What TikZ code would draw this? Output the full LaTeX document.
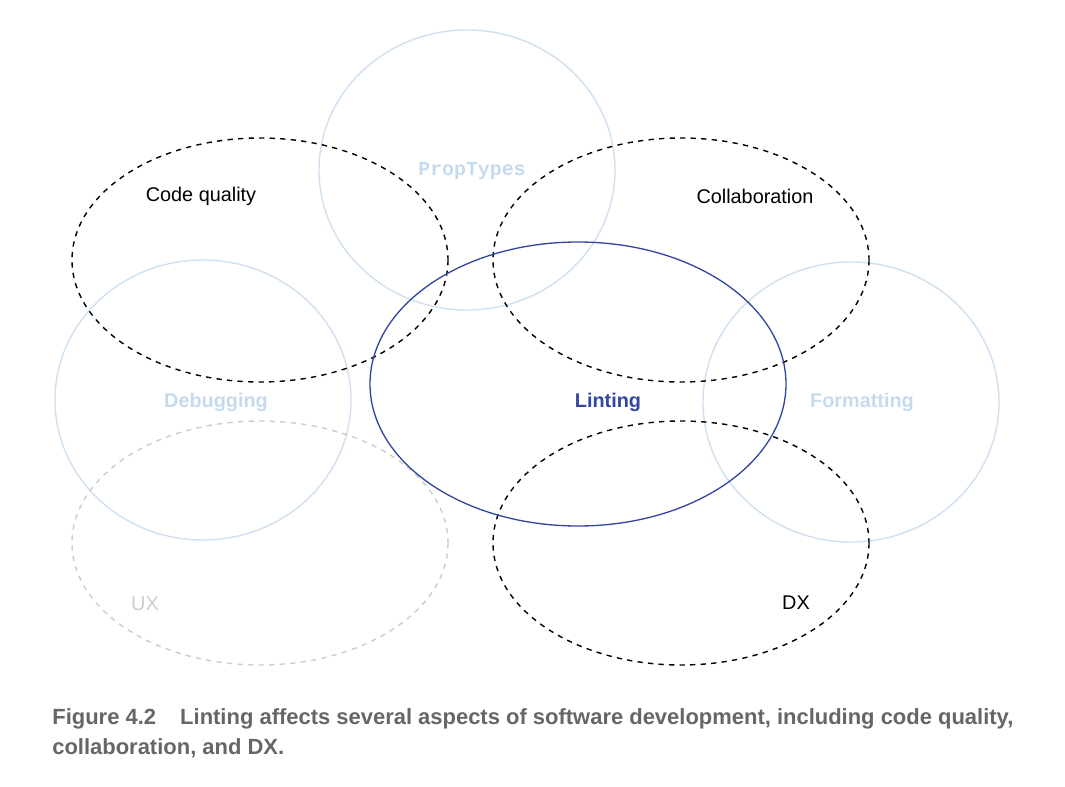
\documentclass[tikz,border=0pt]{standalone}
\usepackage{fontspec}
\setmainfont{Liberation Sans}
\setmonofont{Liberation Mono}

\definecolor{paleBlue}{HTML}{CFE0F1}
\definecolor{paleBlueText}{HTML}{C6DAEE}
\definecolor{lintBlue}{HTML}{33469E}
\definecolor{uxGray}{HTML}{CCCCCC}
\definecolor{captionGray}{HTML}{666666}

\tikzset{
    aspectRing/.style={dashed, line width=0.8pt, black},
    fadedRing/.style={line width=0.8pt, paleBlue},
    label/.style={font=\fontsize{11.3pt}{13pt}\selectfont, inner sep=0pt},
    fadedLabel/.style={label, font=\fontsize{11.3pt}{13pt}\selectfont\bfseries, text=paleBlueText},
    captionLine/.style={anchor=base west, inner sep=0pt, text=captionGray,
        font=\fontsize{12.5pt}{15pt}\selectfont\bfseries}
}

\begin{document}
\begin{tikzpicture}[x=0.02cm, y=-0.02cm]

    \useasboundingbox (0, 0) rectangle (1065, 787);

    \def\ovalRx{188}
    \def\ovalRy{122}
    \def\circleRx{148}
    \def\circleRy{140}

    % faded circles
    \draw[fadedRing] (467, 170) ellipse [x radius=\circleRx, y radius=\circleRy];
    \draw[fadedRing] (203, 400) ellipse [x radius=\circleRx, y radius=\circleRy];
    \draw[fadedRing] (851, 402) ellipse [x radius=\circleRx, y radius=\circleRy];

    % UX (faded dashed)
    \draw[dashed, line width=0.8pt, uxGray] (260, 543) ellipse [x radius=\ovalRx, y radius=\ovalRy];

    % dashed aspects
    \draw[aspectRing] (260, 260) ellipse [x radius=\ovalRx, y radius=\ovalRy];
    \draw[aspectRing] (681, 260) ellipse [x radius=\ovalRx, y radius=\ovalRy];
    \draw[aspectRing] (681, 543) ellipse [x radius=\ovalRx, y radius=\ovalRy];

    % linting
    \draw[line width=0.75pt, lintBlue] (578, 384) ellipse [x radius=208, y radius=142];

    % labels
    \node[label] (codeQuality) at (201, 196) {Code quality};
    \node[label] (collaboration) at (755, 196) {Collaboration};
    \node[label] (dx) at (796, 603) {DX};
    \node[label, text=uxGray] (ux) at (145, 604) {UX};
    \node[fadedLabel, font=\fontsize{11.3pt}{13pt}\selectfont\ttfamily\bfseries] (propTypes) at (472, 171) {PropTypes};
    \node[fadedLabel] (debugging) at (216, 402) {Debugging};
    \node[fadedLabel] (formatting) at (862, 402) {Formatting};
    \node[label, font=\fontsize{11.3pt}{13pt}\selectfont\bfseries, text=lintBlue] (linting) at (608, 402) {Linting};

    % caption
    \node[captionLine] (captionTop) at (52, 724) {Figure 4.2\hspace{1.1em}Linting affects several aspects of software development, including code quality,};
    \node[captionLine] (captionBottom) at (52, 754) {collaboration, and DX.};

\end{tikzpicture}
\end{document}
